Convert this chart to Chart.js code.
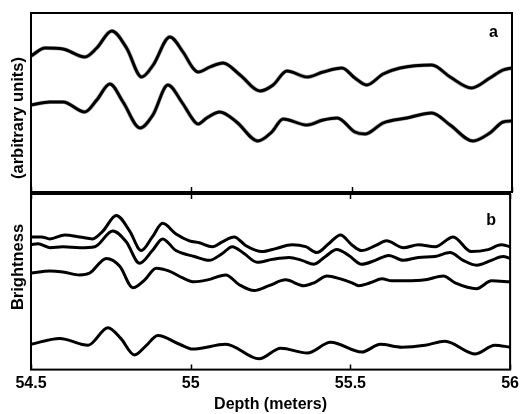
<!DOCTYPE html>
<html>
<head>
<meta charset="utf-8">
<script src="https://cdn.jsdelivr.net/npm/chart.js@4"></script>
<style>
    body { margin: 0; background: #fff; }
    #wrap { position: relative; width: 523px; height: 414px; }
    #wrap canvas { position: absolute; left: 0; }
    #js--chart-a { top: 0; }
    #js--chart-b { top: 186px; }
    .ylabel {
        position: absolute;
        left: 17px;
        font: bold 16.5px "Liberation Sans", Arial, sans-serif;
        white-space: nowrap;
        transform: translate(-50%, -50%) rotate(-90deg);
    }
</style>
</head>
<body>
<div id="wrap">
    <canvas id="js--chart-a" width="523" height="200"></canvas>
    <canvas id="js--chart-b" width="523" height="228"></canvas>
    <div class="ylabel" style="top:118px">(arbitrary units)</div>
    <div class="ylabel" style="top:267px">Brightness</div>
</div>
<script>
// panel a: two traces (depth in meters, brightness in arbitrary units)
const depthA1 = [54.5, 54.544, 54.6, 54.668, 54.705, 54.752, 54.798, 54.845, 54.881, 54.933, 54.974, 55.005, 55.021, 55.058, 55.099, 55.152, 55.214, 55.255, 55.298, 55.361, 55.411, 55.47, 55.51, 55.547, 55.598, 55.651, 55.75, 55.807, 55.874, 55.931, 55.972, 56.0];
const brightA1 = [136, 144, 143, 135, 144, 161, 144, 115, 127, 155, 140, 124, 120, 125, 129, 117, 101, 107, 121, 115, 120, 124, 114, 107, 118, 124, 127, 115, 104, 114, 122, 124];

const depthA2 = [54.5, 54.559, 54.6, 54.668, 54.705, 54.746, 54.787, 54.84, 54.88, 54.927, 54.97, 55.011, 55.021, 55.048, 55.089, 55.141, 55.208, 55.251, 55.286, 55.36, 55.411, 55.455, 55.51, 55.542, 55.598, 55.672, 55.75, 55.807, 55.878, 55.931, 55.972, 56.0];
const brightA2 = [87, 90, 90, 80, 92, 108, 90, 64, 77, 107, 90, 70, 68, 74, 80, 70, 51, 60, 73, 67, 72, 74, 60, 58, 69, 74, 79, 67, 51, 59, 70, 71];

// panel b: four traces
const depthB1 = [54.5, 54.533, 54.559, 54.606, 54.653, 54.693, 54.725, 54.767, 54.809, 54.845, 54.88, 54.912, 54.954, 54.996, 55.027, 55.068, 55.099, 55.136, 55.173, 55.223, 55.266, 55.317, 55.36, 55.395, 55.432, 55.469, 55.504, 55.535, 55.578, 55.613, 55.666, 55.713, 55.765, 55.822, 55.878, 55.931, 55.972, 56.0];
const brightB1 = [136, 136, 134, 138, 136, 134, 142, 158, 142, 122, 136, 150, 139, 132, 130, 126, 131, 136, 127, 121, 124, 128, 126, 120, 129, 138, 128, 122, 127, 132, 125, 128, 126, 136, 121, 123, 128, 126];

const depthB2 = [54.5, 54.522, 54.559, 54.6, 54.653, 54.7, 54.756, 54.798, 54.84, 54.88, 54.912, 54.954, 55.011, 55.058, 55.099, 55.13, 55.167, 55.208, 55.255, 55.308, 55.348, 55.386, 55.422, 55.457, 55.495, 55.535, 55.578, 55.62, 55.666, 55.713, 55.765, 55.812, 55.853, 55.895, 55.941, 55.978, 56.0];
const brightB2 = [128, 129, 125, 126, 125, 126, 142, 131, 109, 122, 134, 122, 116, 112, 119, 126, 119, 110, 113, 115, 112, 108, 116, 123, 117, 108, 112, 117, 112, 115, 116, 120, 112, 107, 112, 116, 114];

const depthB3 = [54.5, 54.559, 54.6, 54.653, 54.684, 54.736, 54.778, 54.819, 54.856, 54.892, 54.933, 54.975, 55.011, 55.053, 55.11, 55.152, 55.199, 55.245, 55.297, 55.354, 55.386, 55.427, 55.469, 55.505, 55.526, 55.562, 55.599, 55.63, 55.672, 55.734, 55.791, 55.828, 55.895, 55.942, 56.0];
const brightB3 = [99, 101, 100, 97, 99, 114, 106, 84, 92, 104, 101, 94, 90, 92, 97, 87, 81, 86, 92, 86, 89, 96, 93, 89, 86, 89, 93, 91, 91, 92, 96, 89, 83, 91, 90];

const depthB4 = [54.5, 54.59, 54.679, 54.741, 54.781, 54.824, 54.859, 54.897, 54.965, 55.006, 55.11, 55.214, 55.282, 55.365, 55.438, 55.536, 55.594, 55.661, 55.734, 55.796, 55.892, 55.952, 56.0];
const brightB4 = [26, 32, 25, 43, 32, 15, 24, 35, 26, 21, 26, 11, 22, 17, 28, 18, 26, 23, 25, 29, 16, 25, 23];

const depthTicks = [54.5, 55, 55.5, 56];

const font = '"Liberation Sans", Arial, sans-serif';

function trace(depth, values, color, width) {
    return {
        data: depth.map((d, i) => ({ x: d, y: values[i] })),
        borderColor: color,
        borderWidth: width,
        pointRadius: 0,
        fill: false,
        cubicInterpolationMode: 'monotone',
        borderCapStyle: 'round',
        borderJoinStyle: 'round'
    };
}

// box round the plot area, small inward ticks, panel letter
const framePlugin = {
    id: 'frame',
    afterDraw(chart, args, opts) {
        const { ctx, chartArea: a } = chart;
        const x = chart.scales.x;
        ctx.save();
        ctx.strokeStyle = '#000';
        ctx.lineWidth = 2;
        ctx.strokeRect(a.left, a.top, a.right - a.left, a.bottom - a.top);
        ctx.lineWidth = 1.5;
        x.ticks.forEach(t => {
            const px = Math.round(x.getPixelForValue(t.value)) + 0.5;
            ctx.beginPath();
            if (opts.tickTop) {
                ctx.moveTo(px, a.top);
                ctx.lineTo(px, a.top + 5);
            }
            if (opts.tickBottom) {
                ctx.moveTo(px, a.bottom);
                ctx.lineTo(px, a.bottom - 5);
            }
            ctx.stroke();
        });
        ctx.fillStyle = '#000';
        ctx.font = 'bold 16px ' + font;
        ctx.textAlign = 'right';
        ctx.textBaseline = 'alphabetic';
        ctx.fillText(opts.letter, a.right - 14, a.top + opts.letterY);
        ctx.restore();
    }
};

function baseOptions(showAxis, pad, yMax, frame) {
    return {
        responsive: false,
        maintainAspectRatio: false,
        animation: false,
        devicePixelRatio: 1,
        layout: { padding: pad },
        scales: {
            x: {
                type: 'linear',
                min: 54.5,
                max: 56,
                afterBuildTicks: axis => { axis.ticks = depthTicks.map(v => ({ value: v })); },
                grid: { display: false, drawTicks: false },
                border: { display: false },
                ticks: {
                    display: showAxis,
                    color: '#000',
                    font: { family: font, size: 16, weight: 'bold' },
                    padding: 4,
                    maxRotation: 0,
                    autoSkip: false,
                    callback: v => String(v)
                },
                title: {
                    display: showAxis,
                    text: 'Depth (meters)',
                    color: '#000',
                    font: { family: font, size: 16, weight: 'bold' },
                    padding: { top: -2, bottom: 0 }
                }
            },
            y: { display: false, min: 0, max: yMax }
        },
        plugins: {
            legend: { display: false },
            tooltip: { enabled: false },
            frame: frame
        }
    };
}

new Chart(document.getElementById('js--chart-a'), {
    type: 'line',
    data: {
        datasets: [
            trace(depthA1, brightA1, '#000', 2.9),
            trace(depthA2, brightA2, '#000', 2.9),
            trace(depthA1, brightA1, '#a8a8a8', 4.2),
            trace(depthA2, brightA2, '#a8a8a8', 4.2)
        ]
    },
    options: baseOptions(false, { left: 31, right: 11, top: 13, bottom: 8 }, 179,
        { letter: 'a', letterY: 24, tickTop: false, tickBottom: true }),
    plugins: [framePlugin]
});

new Chart(document.getElementById('js--chart-b'), {
    type: 'line',
    data: {
        datasets: [
            trace(depthB1, brightB1, '#000', 3),
            trace(depthB2, brightB2, '#000', 3),
            trace(depthB3, brightB3, '#000', 3),
            trace(depthB4, brightB4, '#000', 3)
        ]
    },
    options: baseOptions(true, { left: 31, right: 11, top: 8, bottom: 0 }, 180,
        { letter: 'b', letterY: 31, tickTop: true, tickBottom: true }),
    plugins: [framePlugin]
});
</script>
</body>
</html>
